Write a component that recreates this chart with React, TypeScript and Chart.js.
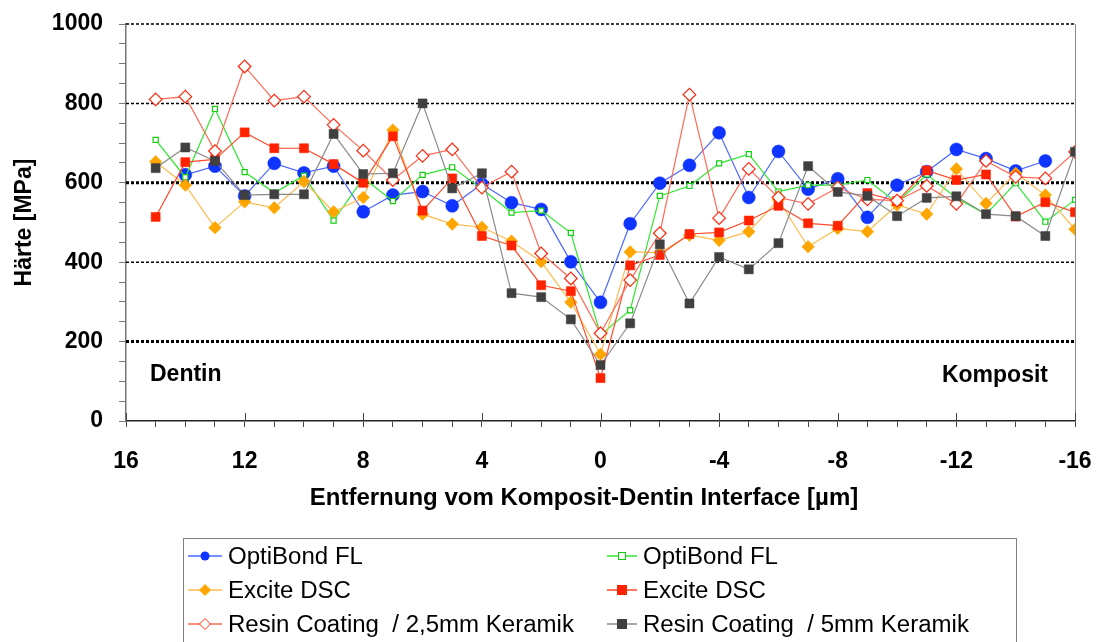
import React, { useEffect, useRef } from 'react';
import { Chart, registerables } from 'chart.js';

Chart.register(...registerables);

const FONT = "'Liberation Sans', Arial, Helvetica, sans-serif";

// x positions (µm from interface)
const X_POS = [15, 14, 13, 12, 11, 10, 9, 8, 7, 6, 5, 4, 3, 2, 1, 0, -1, -2, -3, -4, -5, -6, -7, -8, -9, -10, -11, -12, -13, -14, -15, -16];

const OPTIBOND_A = [null, 620, 642, 567, 649, 625, 642, 527, 569, 578, 542, 597, 550, 533, 401, 299, 497, 599, 644, 726, 563, 679, 584, 610, 513, 594, 628, 684, 661, 630, 655, null];
const OPTIBOND_B = [708, 614, 786, 627, 575, 618, 505, 612, 554, 620, 639, 585, 525, 530, 474, 217, 279, 567, 592, 649, 672, 578, 594, 594, 607, 550, 621, 562, 521, 599, 502, 557];
const EXCITE_A = [653, 594, 487, 552, 537, 603, 527, 563, 733, 521, 496, 488, 453, 401, 299, 168, 426, 424, 468, 455, 477, 557, 439, 485, 477, 544, 521, 635, 548, 624, 569, 483];
const EXCITE_B = [514, 652, 659, 727, 687, 687, 647, 600, 717, 530, 611, 466, 442, 342, 327, 108, 392, 418, 471, 475, 505, 542, 498, 492, 574, 554, 631, 607, 621, 515, 551, 526];
const RESIN_25 = [810, 817, 680, 893, 807, 817, 746, 681, 607, 668, 684, 588, 628, 422, 359, 221, 355, 473, 822, 511, 635, 563, 547, 588, 558, 555, 592, 547, 655, 615, 611, 678];
const RESIN_5 = [637, 689, 655, 569, 571, 571, 723, 622, 624, 800, 586, 624, 322, 312, 256, 141, 246, 445, 296, 413, 382, 448, 642, 577, 567, 516, 562, 566, 521, 516, 466, 678];

const LABELS = ['OptiBond FL', 'OptiBond FL', 'Excite DSC', 'Excite DSC', 'Resin Coating  / 2,5mm Keramik', 'Resin Coating  / 5mm Keramik'];
const X_TICK_STEP_LABEL = 4;
const Y_TICK_LABEL_STEP = 200;
const GRID_VALUES = [200, 400, 600, 800, 1000];
const GRID_BOLD = [200, 600];
const X_TITLE = 'Entfernung vom Komposit-Dentin Interface [µm]';
const Y_TITLE = 'Härte [MPa]';
const REGION_LEFT = 'Dentin';
const REGION_RIGHT = 'Komposit';

type Style = { line: string; fill: string; stroke: string; shape: 'circle' | 'rect' | 'rectRot'; radius: number; open?: boolean };

const STYLES: Style[] = [
  { line: '#4a68ff', fill: '#1034ff', stroke: '#1034ff', shape: 'circle', radius: 6.5 },
  { line: '#30e830', fill: '#ffffff', stroke: '#10d010', shape: 'rect', radius: 3.6, open: true },
  { line: '#ffbb50', fill: '#ffa500', stroke: '#ffa500', shape: 'rectRot', radius: 6.3 },
  { line: '#ff4a2a', fill: '#ff2200', stroke: '#ff2200', shape: 'rect', radius: 6.4 },
  { line: '#ff6a55', fill: '#ffffff', stroke: '#ff2a10', shape: 'rectRot', radius: 6.3, open: true },
  { line: '#8a8a8a', fill: '#404040', stroke: '#404040', shape: 'rect', radius: 6.4 },
];

const SERIES = [OPTIBOND_A, OPTIBOND_B, EXCITE_A, EXCITE_B, RESIN_25, RESIN_5];

const decorPlugin = {
  id: 'decor',
  beforeDatasetsDraw(chart: any) {
    const { ctx, chartArea, scales } = chart;
    const y = scales.y;
    ctx.save();
    GRID_VALUES.forEach((v) => {
      const py = y.getPixelForValue(v);
      const bold = GRID_BOLD.includes(v);
      ctx.beginPath();
      ctx.lineWidth = bold ? 3 : 1.5;
      ctx.setLineDash([3, 2]);
      ctx.strokeStyle = '#000';
      ctx.moveTo(chartArea.left, py);
      ctx.lineTo(chartArea.right, py);
      ctx.stroke();
    });
    ctx.setLineDash([]);
    // right frame line
    ctx.beginPath();
    ctx.lineWidth = 1;
    ctx.strokeStyle = '#888';
    ctx.moveTo(chartArea.right + 0.5, chartArea.top);
    ctx.lineTo(chartArea.right + 0.5, chartArea.bottom);
    ctx.stroke();
    // major x tick marks crossing the axis
    const xs = scales.x;
    ctx.strokeStyle = '#444';
    ctx.lineWidth = 1;
    for (let v = -16; v <= 16; v += X_TICK_STEP_LABEL) {
      const px = Math.round(xs.getPixelForValue(v)) + 0.5;
      ctx.beginPath();
      ctx.moveTo(px, chartArea.bottom - 8);
      ctx.lineTo(px, chartArea.bottom);
      ctx.stroke();
    }
    // region labels
    ctx.fillStyle = '#000';
    ctx.font = `bold 23px ${FONT}`;
    ctx.textBaseline = 'middle';
    ctx.textAlign = 'left';
    ctx.fillText(REGION_LEFT, chartArea.left + 24, chartArea.bottom - 46);
    ctx.textAlign = 'right';
    ctx.fillText(REGION_RIGHT, chartArea.right - 27, chartArea.bottom - 45);
    // x axis title
    ctx.textAlign = 'center';
    ctx.font = `bold 24px ${FONT}`;
    ctx.fillText(X_TITLE, 584, chartArea.bottom + 77);
    ctx.restore();
  },
};

function LegendMarker({ s, w }: { s: Style; w: number }) {
  const cx = w / 2;
  const cy = 10;
  let m: React.ReactNode = null;
  if (s.shape === 'circle') m = <circle cx={cx} cy={cy} r={4.5} fill={s.fill} />;
  else if (s.shape === 'rect') {
    const h = s.open ? 3.5 : 4.5;
    m = <rect x={cx - h} y={cy - h} width={2 * h} height={2 * h} fill={s.fill} stroke={s.stroke} strokeWidth={1} />;
  } else {
    const h = 5.5;
    m = <polygon points={`${cx},${cy - h} ${cx + h},${cy} ${cx},${cy + h} ${cx - h},${cy}`} fill={s.fill} stroke={s.stroke} strokeWidth={1} />;
  }
  return (
    <svg width={w} height={20} style={{ display: 'block' }}>
      <line x1={0} y1={cy} x2={w} y2={cy} stroke={s.line} strokeWidth={1.5} />
      {m}
    </svg>
  );
}

export default function App() {
  const ref = useRef<HTMLCanvasElement>(null);

  useEffect(() => {
    const datasets = SERIES.map((vals, i) => {
      const s = STYLES[i];
      return {
        label: LABELS[i],
        data: X_POS.map((x, j) => ({ x, y: vals[j] })),
        borderColor: s.line,
        borderWidth: 1.2,
        pointStyle: s.shape,
        pointRadius: s.radius,
        pointBackgroundColor: s.fill,
        pointBorderColor: s.stroke,
        pointBorderWidth: s.open ? 1.2 : 0.5,
        fill: false,
        tension: 0,
        spanGaps: false,
        order: SERIES.length - i,
      };
    });

    const tickFont = { family: FONT, size: 23, weight: 'bold' as const };

    const chart = new Chart(ref.current as HTMLCanvasElement, {
      type: 'line',
      data: { datasets },
      options: {
        responsive: false,
        animation: false,
        devicePixelRatio: 1,
        layout: { padding: { left: 0, top: 24, right: 22, bottom: 122 } },
        plugins: { legend: { display: false }, tooltip: { enabled: false } },
        scales: {
          x: {
            type: 'linear',
            min: -16,
            max: 16,
            reverse: true,
            afterFit: (s: any) => {
              s.height = 99;
              s.paddingLeft = 0;
              s.paddingRight = 0;
            },
            ticks: {
              stepSize: 1,
              autoSkip: false,
              maxRotation: 0,
              padding: 21,
              color: '#000',
              font: tickFont,
              callback: (v: any) => (Number(v) % X_TICK_STEP_LABEL === 0 ? String(Number(v) === 0 ? 0 : v) : ''),
            },
            grid: { drawOnChartArea: false, drawTicks: true, tickLength: 6, tickColor: '#444', tickWidth: 1 },
            border: { color: '#222', width: 1.5 },
            title: { display: false },
          },
          y: {
            type: 'linear',
            min: 0,
            max: 1000,
            afterFit: (s: any) => {
              s.width = 126;
              s.paddingTop = 0;
              s.paddingBottom = 0;
            },
            ticks: {
              stepSize: 50,
              autoSkip: false,
              padding: 16,
              color: '#000',
              font: tickFont,
              callback: (v: any) => (Number(v) % Y_TICK_LABEL_STEP === 0 ? String(v) : ''),
            },
            grid: { drawOnChartArea: false, drawTicks: true, tickLength: 7, tickColor: '#777', tickWidth: 1 },
            border: { color: '#777', width: 1.5 },
            title: { display: true, text: Y_TITLE, color: '#000', font: tickFont, padding: { top: 11, bottom: 0 } },
          },
        },
      },
      plugins: [decorPlugin],
    });
    return () => chart.destroy();
  }, []);

  const rowsY = [555.7, 590, 624.3];
  const sampleX = [188, 607];
  const sampleW = [34, 30];
  const textX = [228, 643];

  return (
    <div style={{ position: 'fixed', left: 0, top: 0, width: 1097, height: 642, overflow: 'hidden', background: '#fff' }}>
      <canvas ref={ref} width={1097} height={642} style={{ position: 'absolute', left: 0, top: 0, width: 1097, height: 642 }} />
      <div
        style={{
          position: 'absolute',
          left: 183,
          top: 538,
          width: 834,
          height: 140,
          border: '1px solid #808080',
          boxSizing: 'border-box',
        }}
      />
      {LABELS.map((lab, i) => {
        const r = Math.floor(i / 2);
        const c = i % 2;
        const cy = rowsY[r];
        return (
          <React.Fragment key={i}>
            <div style={{ position: 'absolute', left: sampleX[c], top: cy - 10 }}>
              <LegendMarker s={STYLES[i]} w={sampleW[c]} />
            </div>
            <div
              style={{
                position: 'absolute',
                left: textX[c],
                top: cy - 14,
                height: 28,
                lineHeight: '28px',
                fontFamily: FONT,
                fontSize: 23,
                color: '#000',
                whiteSpace: 'pre',
                transform: 'scaleX(1.045)',
                transformOrigin: 'left center',
              }}
            >
              {lab}
            </div>
          </React.Fragment>
        );
      })}
    </div>
  );
}
